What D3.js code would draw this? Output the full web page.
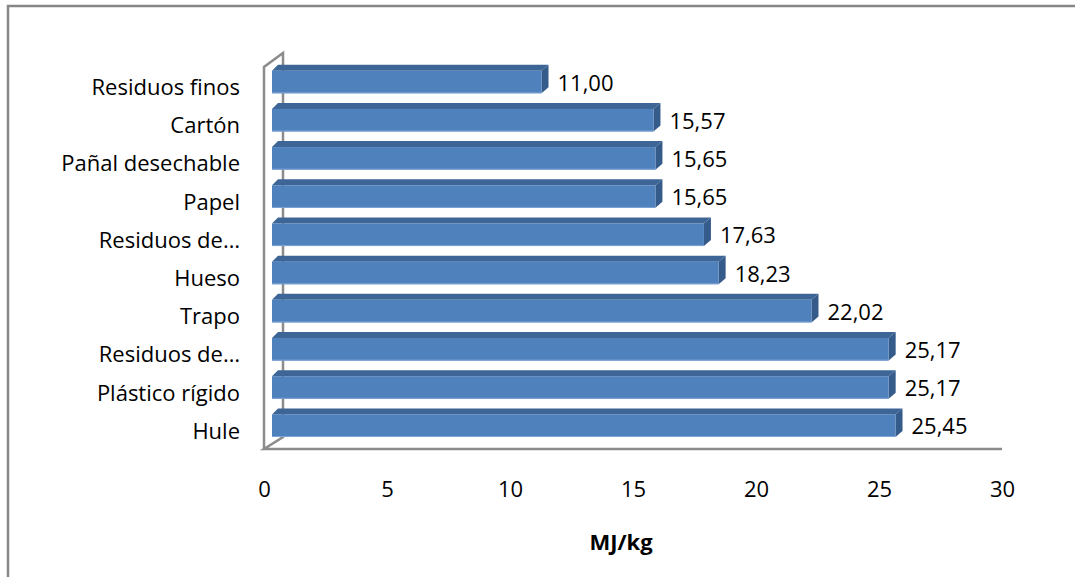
<!DOCTYPE html>
<html>
<head>
<meta charset="utf-8">
<script src="https://cdn.jsdelivr.net/npm/d3@7"></script>
<style>
  html, body { margin: 0; padding: 0; background: #fff; }
  svg { display: block; }
  text { font-family: "Open Sans", Lato, sans-serif; fill: #000; }
</style>
</head>
<body>
<svg id="chart" width="1075" height="577"></svg>
<script>
// Poder calorífico por tipo de residuo (MJ/kg)
const categories = [
  "Residuos finos", "Cartón", "Pañal desechable", "Papel", "Residuos de…",
  "Hueso", "Trapo", "Residuos de…", "Plástico rígido", "Hule"
];
const values = [11.00, 15.57, 15.65, 15.65, 17.63, 18.23, 22.02, 25.17, 25.17, 25.45];
const xTicks = [0, 5, 10, 15, 20, 25, 30];
const axisTitle = "MJ/kg";

const FONT = "'Open Sans', Lato, sans-serif";
const FS = 22;

const svg = d3.select("#chart");
const W = 1075, H = 577;

// Outer chart frame (runs off the right and bottom edges)
svg.append("rect")
  .attr("x", 8).attr("y", 6)
  .attr("width", W + 10).attr("height", H + 10)
  .attr("fill", "none").attr("stroke", "#878787").attr("stroke-width", 2.5);

// Floor axis scale and the bar scale set back in depth
const xAxisScale = d3.scaleLinear().domain([0, 30]).range([264, 1002]);
const xBar = d3.scaleLinear().domain([0, 30]).range([272, 1007]);
const rows = categories.map((c, i) => ({ key: i, label: c, value: values[i] }));
const y = d3.scaleBand().domain(rows.map(d => d.key)).range([70.7, 437])
  .paddingInner(0.408).paddingOuter(0);

const depthX = 7, depthY = 6;
const wallColor = "#8c8c8c";

// 3D walls: back wall edge, front-left edge and the floor front edge
const walls = svg.append("g").attr("fill", "none").attr("stroke", wallColor).attr("stroke-width", 2.5);
const backX = xAxisScale(0) + 19;
walls.append("path").attr("d",
  `M${xAxisScale(0)},449 L${xAxisScale(0)},67 L${backX},53 L${backX},437 L${xAxisScale(0)},449 L${xAxisScale(30)},449`);

// Bars
const bars = svg.append("g");
rows.forEach(d => {
  const x0 = xBar(0), x1 = xBar(d.value);
  const top = y(d.key), h = y.bandwidth();
  const g = bars.append("g");
  // top face
  g.append("path")
    .attr("d", `M${x0},${top} L${x0 + depthX - 1},${top - depthY} L${x1 + depthX},${top - depthY} L${x1},${top} Z`)
    .attr("fill", "#3d6596");
  // side face
  g.append("path")
    .attr("d", `M${x1},${top} L${x1 + depthX},${top - depthY} L${x1 + depthX},${top + h - depthY} L${x1},${top + h} Z`)
    .attr("fill", "#355b8b");
  // front face
  g.append("rect")
    .attr("x", x0).attr("y", top).attr("width", x1 - x0).attr("height", h)
    .attr("fill", "#4f81bd");
  g.append("line")
    .attr("x1", x0).attr("x2", x1).attr("y1", top + h - 0.5).attr("y2", top + h - 0.5)
    .attr("stroke", "#7fa3d4").attr("stroke-width", 1);

  // value label
  svg.append("text")
    .attr("x", x1 + depthX + 9)
    .attr("y", top + h / 2 + 1)
    .attr("dy", "0.35em")
    .attr("font-size", FS)
    .text(d3.format(".2f")(d.value).replace(".", ","));
});

// Category axis labels
const yAxis = d3.axisLeft(y).tickSize(0).tickPadding(24).tickFormat(k => categories[k]);
const gy = svg.append("g").attr("transform", `translate(${xAxisScale(0)},6)`).call(yAxis);
gy.select(".domain").remove();
gy.selectAll("text").attr("font-size", FS).style("font-family", FONT);

// Value axis tick labels
const xAxis = d3.axisBottom(xAxisScale).tickValues(xTicks).tickSize(0).tickPadding(32);
const gx = svg.append("g").attr("transform", "translate(0,449)").call(xAxis);
gx.select(".domain").remove();
gx.selectAll("text").attr("font-size", FS).style("font-family", FONT);

// Axis title
svg.append("text")
  .attr("x", 621).attr("y", 542).attr("dy", "0.35em")
  .attr("text-anchor", "middle")
  .attr("font-size", FS).attr("font-weight", "bold")
  .text(axisTitle);
</script>
</body>
</html>
